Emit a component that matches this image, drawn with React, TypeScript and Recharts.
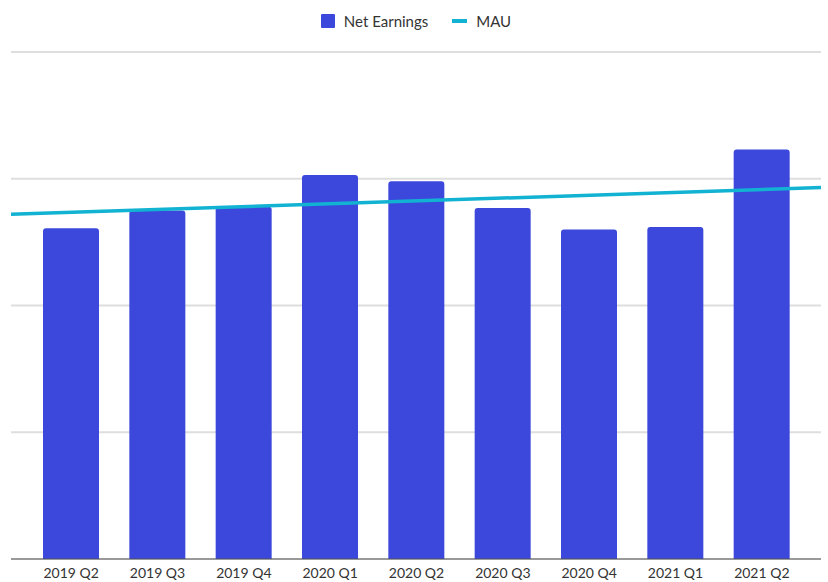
import React from 'react';
import {
  ComposedChart,
  Bar,
  Line,
  XAxis,
  YAxis,
  CartesianGrid,
  Legend,
} from 'recharts';

// quarters on the x axis
const quarters = [
  '2019 Q2',
  '2019 Q3',
  '2019 Q4',
  '2020 Q1',
  '2020 Q2',
  '2020 Q3',
  '2020 Q4',
  '2021 Q1',
  '2021 Q2',
];

// bar heights (grid step = 100)
const netEarnings = [261, 275, 278, 303, 298, 277, 260, 262, 323];

// MAU trend line: start and end values across the plot
const mauTrendPos = [0, 1];
const mauTrend = [272, 293];

const yTicks = [0, 100, 200, 300, 400];
const legendOrder = ['Net Earnings', 'MAU'];

const BAR_COLOR = '#3B48DB';
const LINE_COLOR = '#12B2D2';
const TEXT_COLOR = '#333333';

const barData = quarters.map((q, i) => ({ quarter: q, netEarnings: netEarnings[i] }));
const trendData = mauTrendPos.map((t, i) => ({ t, mau: mauTrend[i] }));

const renderLegend = (props: any) => {
  const items = [...(props.payload || [])].sort(
    (a: any, b: any) => legendOrder.indexOf(a.value) - legendOrder.indexOf(b.value)
  );
  return (
    <div style={{ display: 'flex', justifyContent: 'center', alignItems: 'center', height: 22 }}>
      {items.map((entry: any, i: number) => (
        <div
          key={entry.value}
          style={{ display: 'flex', alignItems: 'center', marginRight: i === 0 ? 24 : 0 }}
        >
          {entry.type === 'square' ? (
            <span style={{ width: 14, height: 14, background: entry.color, display: 'inline-block', borderRadius: 1 }} />
          ) : (
            <span style={{ width: 15, height: 4, background: entry.color, display: 'inline-block' }} />
          )}
          <span style={{ marginLeft: 9, color: TEXT_COLOR, fontSize: 15 }}>{entry.value}</span>
        </div>
      ))}
    </div>
  );
};

export default function App() {
  return (
    <div style={{ position: 'absolute', left: 0, top: 0, fontFamily: 'Lato, sans-serif' }}>
      <ComposedChart
        width={828}
        height={582}
        data={barData}
        margin={{ top: 10, right: 7, bottom: 0, left: 11 }}
      >
        <CartesianGrid vertical={false} stroke="#dedede" strokeWidth={2} />
        <XAxis
          dataKey="quarter"
          height={23}
          padding={{ left: 17, right: 16 }}
          axisLine={{ stroke: '#555', strokeWidth: 1 }}
          tickLine={false}
          tick={{ fill: TEXT_COLOR, fontSize: 14 }}
          tickMargin={3}
          interval={0}
        />
        <XAxis xAxisId="trend" type="number" dataKey="t" domain={[0, 1]} hide />
        <YAxis domain={[0, 400]} ticks={yTicks} hide />
        <Legend
          verticalAlign="top"
          align="center"
          content={renderLegend}
          wrapperStyle={{ height: 42 }}
        />
        <Bar
          dataKey="netEarnings"
          name="Net Earnings"
          fill={BAR_COLOR}
          barSize={56}
          radius={[3, 3, 0, 0]}
          legendType="square"
          isAnimationActive={false}
        />
        <Line
          xAxisId="trend"
          data={trendData}
          dataKey="mau"
          name="MAU"
          stroke={LINE_COLOR}
          strokeWidth={3.5}
          dot={false}
          activeDot={false}
          legendType="plainline"
          isAnimationActive={false}
        />
      </ComposedChart>
    </div>
  );
}
